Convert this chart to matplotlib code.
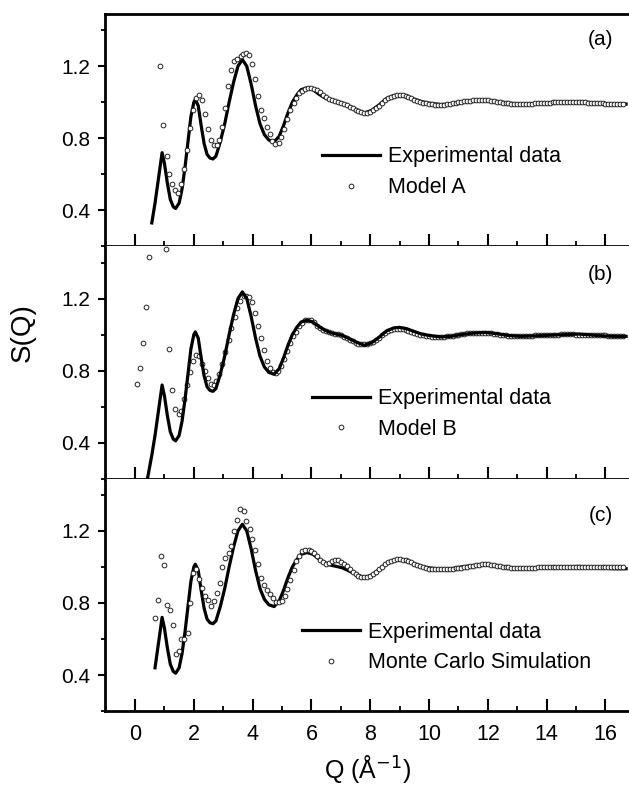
import numpy as np
import matplotlib
matplotlib.use('Agg')
import matplotlib.pyplot as plt
from matplotlib.ticker import MultipleLocator
from matplotlib.lines import Line2D

plt.rcParams['font.family'] = ['Liberation Sans', 'DejaVu Sans']

# experimental S(Q) curve
exp_q = [0.40, 0.57, 0.68, 0.80, 0.92, 1.00, 1.10, 1.20, 1.30, 1.38, 1.50, 1.60, 1.70,
         1.80, 1.90, 2.00, 2.05, 2.15, 2.25, 2.35, 2.45, 2.55, 2.65, 2.75, 2.90, 3.05,
         3.20, 3.35, 3.50, 3.65, 3.80, 3.95, 4.10, 4.25, 4.40, 4.55, 4.73, 4.90, 5.05,
         5.20, 5.35, 5.50, 5.65, 5.85, 6.05, 6.25, 6.45, 6.65, 6.85, 7.05, 7.25, 7.50,
         7.80, 8.05, 8.30, 8.55, 8.80, 9.00, 9.25, 9.50, 9.75, 10.00, 10.40, 10.75,
         11.10, 11.50, 11.90, 12.30, 12.70, 13.10, 13.50, 13.90, 14.30, 14.70, 15.10,
         15.50, 15.90, 16.30, 16.70]
exp_s = [0.18, 0.33, 0.44, 0.58, 0.72, 0.66, 0.55, 0.46, 0.42, 0.41, 0.44, 0.52, 0.64,
         0.78, 0.92, 1.00, 1.015, 0.98, 0.87, 0.77, 0.71, 0.69, 0.685, 0.70, 0.78, 0.88,
         1.00, 1.11, 1.20, 1.237, 1.20, 1.10, 0.98, 0.88, 0.82, 0.79, 0.78, 0.81, 0.87,
         0.94, 1.00, 1.04, 1.07, 1.08, 1.07, 1.045, 1.025, 1.01, 1.003, 0.995, 0.98, 0.96,
         0.94, 0.955, 0.985, 1.02, 1.037, 1.04, 1.032, 1.017, 1.003, 0.995, 0.987, 0.99,
         1.00, 1.008, 1.012, 1.005, 0.995, 0.99, 0.992, 0.995, 0.998, 1.0, 1.003,
         0.998, 0.993, 0.99, 0.99]
exp_start = [0.57, 0.40, 0.68]

# model points, low Q region
modelA_q = [0.86, 0.96, 1.08, 1.17, 1.27, 1.37, 1.47, 1.56, 1.67, 1.76, 1.87, 1.98, 2.08,
            2.18, 2.28, 2.38, 2.47, 2.57, 2.69, 2.78, 2.87, 2.96, 3.06, 3.17, 3.28, 3.38,
            3.48, 3.59, 3.68, 3.78, 3.88, 3.98, 4.08, 4.18, 4.27, 4.38, 4.48, 4.58, 4.67,
            4.77, 4.88, 4.98, 5.08, 5.18, 5.28, 5.39, 5.48, 5.58, 5.68, 5.79, 5.89, 5.99,
            6.09, 6.19]
modelA_s = [1.20, 0.876, 0.70, 0.604, 0.548, 0.511, 0.497, 0.545, 0.627, 0.737, 0.857,
            0.959, 1.023, 1.04, 1.01, 0.935, 0.854, 0.79, 0.76, 0.76, 0.79, 0.86, 0.97,
            1.09, 1.18, 1.227, 1.24, 1.255, 1.27, 1.275, 1.265, 1.214, 1.13, 1.034, 0.959,
            0.91, 0.86, 0.826, 0.785, 0.77, 0.776, 0.807, 0.853, 0.905, 0.957, 0.994, 1.025,
            1.05, 1.065, 1.076, 1.08, 1.08, 1.076, 1.067]

modelB_q = [0.08, 0.17, 0.27, 0.37, 0.48, 1.05, 1.17, 1.27, 1.36, 1.48, 1.56, 1.67, 1.76,
            1.87, 1.97, 2.08, 2.18, 2.28, 2.38, 2.48, 2.57, 2.68, 2.77, 2.86, 2.96, 3.07,
            3.19, 3.28, 3.39, 3.48, 3.57, 3.69, 3.78, 3.88, 3.98, 4.08, 4.18, 4.29, 4.39,
            4.49, 4.59, 4.69, 4.78, 4.87, 4.96, 5.06, 5.16, 5.27, 5.37, 5.47, 5.57, 5.67,
            5.78, 5.89, 5.99, 6.09, 6.19]
modelB_s = [0.725, 0.815, 0.954, 1.155, 1.43, 1.475, 0.92, 0.69, 0.587, 0.557, 0.576, 0.64,
            0.72, 0.79, 0.855, 0.887, 0.88, 0.838, 0.80, 0.758, 0.726, 0.722, 0.745, 0.782,
            0.838, 0.903, 0.972, 1.037, 1.095, 1.145, 1.188, 1.214, 1.214, 1.21, 1.18, 1.12,
            1.05, 0.98, 0.915, 0.855, 0.813, 0.795, 0.788, 0.80, 0.828, 0.865, 0.908, 0.955,
            0.99, 1.017, 1.045, 1.066, 1.079, 1.082, 1.079, 1.07, 1.05]

modelC_q = [0.68, 0.79, 0.88, 0.97, 1.08, 1.19, 1.28, 1.38, 1.49, 1.58, 1.68, 1.79, 1.88,
            1.97, 2.08, 2.18, 2.29, 2.39, 2.48, 2.60, 2.69, 2.79, 2.88, 2.97, 3.07, 3.19,
            3.28, 3.38, 3.48, 3.58, 3.69, 3.79, 3.90, 3.99, 4.09, 4.18, 4.30, 4.39, 4.49,
            4.59, 4.70, 4.79, 4.89, 4.99, 5.09, 5.18, 5.28, 5.39, 5.49, 5.59, 5.69, 5.79,
            5.90, 6.00, 6.10, 6.20]
modelC_s = [0.715, 0.817, 1.058, 1.013, 0.787, 0.76, 0.68, 0.515, 0.533, 0.598, 0.60, 0.635,
            0.797, 0.965, 0.99, 0.932, 0.882, 0.836, 0.817, 0.785, 0.81, 0.853, 0.913, 1.0,
            1.05, 1.077, 1.115, 1.20, 1.262, 1.32, 1.31, 1.255, 1.21, 1.157, 1.094, 1.015,
            0.937, 0.90, 0.873, 0.85, 0.826, 0.808, 0.805, 0.813, 0.837, 0.878, 0.93, 0.983,
            1.033, 1.063, 1.087, 1.092, 1.092, 1.087, 1.078, 1.063]

# model points, high Q region (shared Q grid)
hi_q = [6.3, 6.4, 6.5, 6.6, 6.7, 6.8, 6.9, 7.0, 7.1, 7.2, 7.3, 7.4, 7.5, 7.6, 7.7, 7.8,
        7.9, 8.0, 8.1, 8.2, 8.3, 8.4, 8.5, 8.6, 8.7, 8.8, 8.9, 9.0, 9.1, 9.2, 9.3, 9.4,
        9.5, 9.6, 9.7, 9.8, 9.9, 10.0, 10.1, 10.2, 10.3, 10.4, 10.5, 10.6, 10.7, 10.8,
        10.9, 11.0, 11.1, 11.2, 11.3, 11.4, 11.5, 11.6, 11.7, 11.8, 11.9, 12.0, 12.1,
        12.2, 12.3, 12.4, 12.5, 12.6, 12.7, 12.8, 12.9, 13.0, 13.1, 13.2, 13.3, 13.4,
        13.5, 13.6, 13.7, 13.8, 13.9, 14.0, 14.1, 14.2, 14.3, 14.4, 14.5, 14.6, 14.7,
        14.8, 14.9, 15.0, 15.1, 15.2, 15.3, 15.4, 15.5, 15.6, 15.7, 15.8, 15.9, 16.0,
        16.1, 16.2, 16.3, 16.4, 16.5, 16.6]
modelA_hi = [1.055, 1.040, 1.028, 1.018, 1.012, 1.008, 1.004, 0.998, 0.992, 0.985, 0.976,
             0.967, 0.958, 0.950, 0.944, 0.940, 0.941, 0.946, 0.955, 0.967, 0.981, 0.996,
             1.010, 1.022, 1.031, 1.037, 1.040, 1.040, 1.038, 1.034, 1.028, 1.021, 1.014,
             1.007, 1.001, 0.997, 0.993, 0.990, 0.988, 0.987, 0.986, 0.986, 0.987, 0.988,
             0.990, 0.993, 0.996, 0.999, 1.002, 1.005, 1.007, 1.009, 1.010, 1.011, 1.012,
             1.012, 1.011, 1.010, 1.008, 1.006, 1.003, 1.000, 0.997, 0.995, 0.993, 0.991,
             0.990, 0.989, 0.989, 0.989, 0.990, 0.991, 0.992, 0.993, 0.994, 0.995, 0.996,
             0.997, 0.998, 0.999, 1.000, 1.000, 1.001, 1.001, 1.002, 1.002, 1.002, 1.002,
             1.001, 1.000, 0.999, 0.998, 0.997, 0.996, 0.995, 0.994, 0.993, 0.992, 0.991,
             0.990, 0.990, 0.989, 0.989, 0.989]
modelB_hi = [1.035, 1.025, 1.018, 1.013, 1.010, 1.006, 1.002, 0.996, 0.988, 0.979, 0.970,
             0.962, 0.955, 0.950, 0.947, 0.946, 0.948, 0.953, 0.961, 0.971, 0.983, 0.996,
             1.008, 1.018, 1.026, 1.031, 1.033, 1.033, 1.031, 1.027, 1.022, 1.016, 1.010,
             1.004, 0.999, 0.995, 0.992, 0.990, 0.989, 0.988, 0.988, 0.988, 0.989, 0.990,
             0.992, 0.994, 0.997, 1.000, 1.003, 1.005, 1.007, 1.009, 1.010, 1.011, 1.011,
             1.011, 1.010, 1.009, 1.007, 1.005, 1.002, 1.000, 0.998, 0.996, 0.994, 0.993,
             0.992, 0.992, 0.992, 0.992, 0.993, 0.993, 0.994, 0.995, 0.996, 0.997, 0.998,
             0.998, 0.999, 0.999, 1.000, 1.000, 1.001, 1.001, 1.001, 1.001, 1.001, 1.000,
             1.000, 0.999, 0.998, 0.997, 0.997, 0.996, 0.996, 0.995, 0.995, 0.995, 0.994,
             0.994, 0.994, 0.994, 0.994, 0.994]
modelC_hi = [1.040, 1.026, 1.015, 1.020, 1.035, 1.040, 1.036, 1.028, 1.018, 1.005, 0.990,
             0.972, 0.958, 0.948, 0.943, 0.942, 0.944, 0.950, 0.960, 0.973, 0.987, 1.001,
             1.014, 1.025, 1.034, 1.040, 1.043, 1.043, 1.041, 1.037, 1.031, 1.025, 1.018,
             1.012, 1.006, 1.000, 0.995, 0.991, 0.989, 0.987, 0.986, 0.986, 0.986, 0.987,
             0.988, 0.990, 0.992, 0.994, 0.996, 0.998, 1.001, 1.004, 1.007, 1.010, 1.012,
             1.014, 1.015, 1.014, 1.012, 1.010, 1.007, 1.004, 1.001, 0.999, 0.997, 0.995,
             0.994, 0.993, 0.993, 0.993, 0.993, 0.994, 0.995, 0.996, 0.997, 0.998, 0.999,
             0.999, 1.000, 1.000, 1.000, 1.000, 1.000, 1.000, 1.000, 1.000, 1.000, 1.000,
             0.999, 0.999, 0.999, 0.998, 0.998, 0.998, 0.998, 0.997, 0.997, 0.997, 0.997,
             0.997, 0.997, 0.997, 0.997, 0.997]

model_labels = ['Model A', 'Model B', 'Monte Carlo Simulation']
panel_tags = ['(a)', '(b)', '(c)']

models = [(modelA_q, modelA_s, modelA_hi),
          (modelB_q, modelB_s, modelB_hi),
          (modelC_q, modelC_s, modelC_hi)]

# legend anchors / panel label positions (axes fraction)
leg_pos = [(0.414, 0.43), (0.395, 0.39), (0.376, 0.385)]
tag_y = [0.89, 0.88, 0.84]

fig = plt.figure(figsize=(6.29, 7.94), dpi=100)
left, bottom, top = 0.167, 0.1045, 0.9824
h = (top - bottom) / 3

exp_q = np.array(exp_q)
exp_s = np.array(exp_s)

axes = []
for i in range(3):
    ax = fig.add_axes([left, top - (i + 1) * h, 1.0 - left, h])
    axes.append(ax)
    qm, sm, shi = models[i]
    mq = np.concatenate([qm, hi_q])
    ms = np.concatenate([sm, shi])
    sel = exp_q >= exp_start[i] - 1e-9
    line_z, mark_z = (2, 3) if i != 1 else (3, 2)
    ax.plot(exp_q[sel], exp_s[sel], color='black', lw=2.3, zorder=line_z)
    ax.plot(mq, ms, 'o', ms=3.4, mfc='white', mec='#222222', mew=0.7, zorder=mark_z)

    ax.set_xlim(-1.02, 16.8)
    ax.set_ylim(0.2, 1.49)
    ax.xaxis.set_major_locator(MultipleLocator(2))
    ax.xaxis.set_minor_locator(MultipleLocator(1))
    ax.yaxis.set_minor_locator(MultipleLocator(0.2))
    ax.set_yticks([0.4, 0.8, 1.2])
    ax.set_yticklabels(['0.4', '0.8', '1.2'])
    ax.tick_params(axis='y', which='major', direction='out', length=5, width=1.5,
                   labelsize=15, pad=6)
    ax.tick_params(axis='y', which='minor', direction='out', length=3, width=1.3)
    ax.tick_params(axis='x', which='major', direction='in', length=8.5, width=1.5,
                   labelsize=15.5, pad=9)
    ax.tick_params(axis='x', which='minor', direction='in', length=3.8, width=1.3)
    for sp in ['left', 'bottom', 'top']:
        ax.spines[sp].set_linewidth(2)
    ax.spines['right'].set_visible(False)
    if i < 2:
        ax.tick_params(axis='x', labelbottom=False)
    if i > 0:
        ax.spines['top'].set_visible(False)

    handles = [Line2D([], [], color='black', lw=2.3),
               Line2D([], [], ls='none', marker='o', ms=3.4, mfc='white',
                      mec='#222222', mew=0.7)]
    ax.legend(handles, ['Experimental data', model_labels[i]], loc='upper left',
              bbox_to_anchor=leg_pos[i], frameon=False, fontsize=15.5,
              handlelength=2.7, handletextpad=0.35, labelspacing=0.45,
              borderpad=0, borderaxespad=0)
    ax.text(0.97, tag_y[i], panel_tags[i], transform=ax.transAxes, ha='right',
            va='center', fontsize=15)

axes[2].set_xlabel('Q (Å$^{-1}$)', fontsize=18, labelpad=6)
fig.text(23 / 629, 1 - 333 / 794, 'S(Q)', rotation=90, ha='center', va='center',
         fontsize=20)

plt.savefig('out.png', dpi=100)
